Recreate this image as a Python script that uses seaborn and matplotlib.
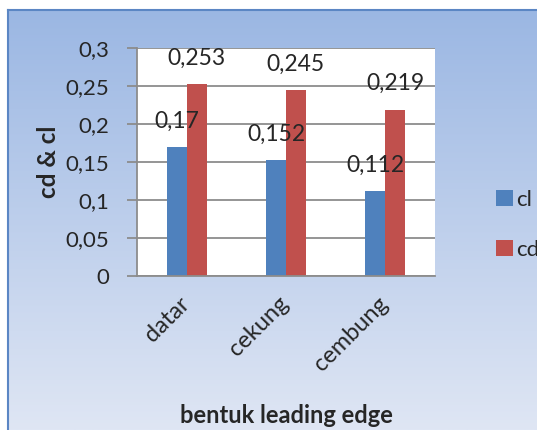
import numpy as np
import pandas as pd
import matplotlib
matplotlib.use('Agg')
import matplotlib.pyplot as plt
import matplotlib.transforms as mtransforms
import seaborn as sns

bentuk = ['datar', 'cekung', 'cembung']
cl = [0.17, 0.152, 0.112]
cd = [0.253, 0.245, 0.219]
yticks = [0, 0.05, 0.1, 0.15, 0.2, 0.25, 0.3]

df = pd.DataFrame({
    'bentuk': bentuk * 2,
    'nilai': cl + cd,
    'seri': ['cl'] * 3 + ['cd'] * 3,
})

sns.set_style('white')
plt.rcParams['font.family'] = ['Lato', 'DejaVu Sans']


def koma(v):
    return f"{v:g}".replace('.', ',')


fig = plt.figure(figsize=(5.37, 4.30), dpi=100)

# gradient background of the chart area
bg = fig.add_axes([8 / 537, 0, 1 - 8 / 537, 1 - 10 / 430])
grad = np.linspace(0, 1, 256).reshape(-1, 1)
cmap = matplotlib.colors.LinearSegmentedColormap.from_list('bg', ['#9bb7e3', '#dfe6f4'])
bg.imshow(grad, aspect='auto', cmap=cmap, extent=[0, 1, 0, 1], origin='upper')
bg.set_xticks([])
bg.set_yticks([])
for s in ['right', 'bottom']:
    bg.spines[s].set_visible(False)
for s in ['left', 'top']:
    bg.spines[s].set_color('#5b86c4')
    bg.spines[s].set_linewidth(1.5)

ax = fig.add_axes([137 / 537, 1 - 276 / 430, 298 / 537, 228 / 430])
ax.set_facecolor('white')
sns.barplot(data=df, x='bentuk', y='nilai', hue='seri', saturation=1,
            palette=['#4f81bd', '#c0504d'], width=0.4, ax=ax, legend=True,
            edgecolor='none', linewidth=0)

ax.set_ylim(0, 0.3)
ax.set_yticks(yticks)
ax.set_yticklabels([koma(t) for t in yticks], fontsize=16)
ax.yaxis.grid(True, color='#8c8c8c', linewidth=1.3)
ax.set_axisbelow(True)
ax.tick_params(axis='y', which='major', left=True, length=7, width=1.3,
               color='#8c8c8c', pad=13)
ax.tick_params(axis='x', length=0, pad=12)
for s in ['top', 'right']:
    ax.spines[s].set_visible(False)
for s in ['left', 'bottom']:
    ax.spines[s].set_color('#8c8c8c')
    ax.spines[s].set_linewidth(1.3)

shift = mtransforms.ScaledTranslation(-8 / 100, 0, fig.dpi_scale_trans)
for lbl in ax.get_xticklabels():
    lbl.set_rotation(45)
    lbl.set_ha('right')
    lbl.set_rotation_mode('anchor')
    lbl.set_fontsize(17)
    lbl.set_transform(lbl.get_transform() + shift)

for cont, vals in zip(ax.containers, [cl, cd]):
    ax.bar_label(cont, labels=[koma(v) for v in vals], padding=11, fontsize=16.5)

ax.set_xlabel('bentuk leading edge', fontsize=17, fontweight='bold')
ax.xaxis.set_label_coords(0.5, -0.56)
ax.set_ylabel('cd & cl', fontsize=17.5, fontweight='bold', labelpad=4)

handles, labels = ax.get_legend_handles_labels()
ax.get_legend().remove()
fig.legend(handles, labels, loc='upper left', bbox_to_anchor=(476 / 537, 1 - 170 / 430),
           frameon=False, fontsize=16, handlelength=0.75, handleheight=0.7,
           handletextpad=0.15, labelspacing=1.35)

fig.savefig('out.png', dpi=100)
